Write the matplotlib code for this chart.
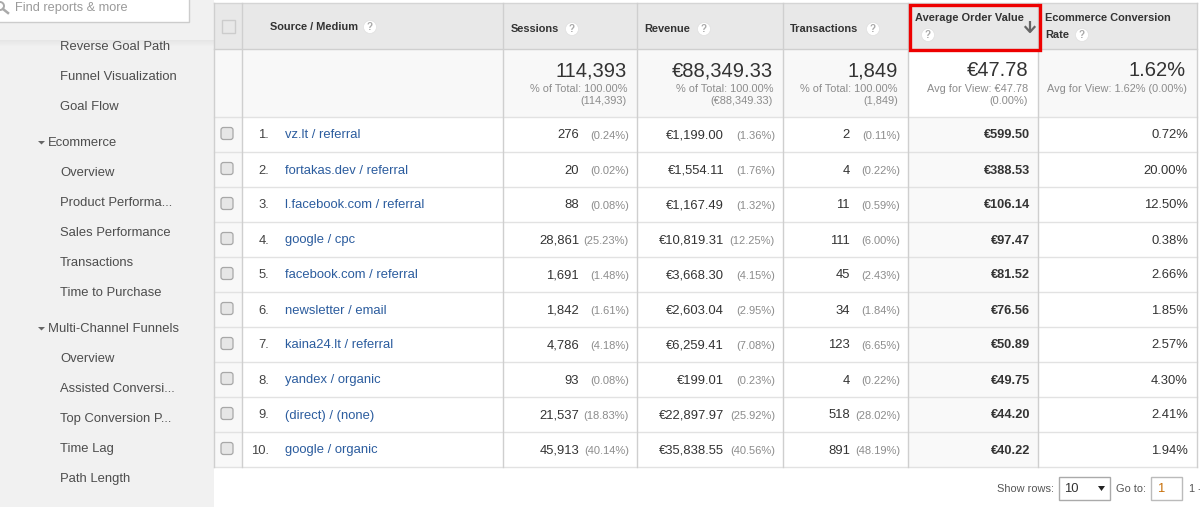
import matplotlib
matplotlib.use("Agg")
import matplotlib.pyplot as plt
from matplotlib.patches import Rectangle, Circle, Polygon, FancyBboxPatch

plt.rcParams['font.family'] = ['Liberation Sans', 'DejaVu Sans']

# data
sources = ["vz.lt / referral", "fortakas.dev / referral", "l.facebook.com / referral",
           "google / cpc", "facebook.com / referral", "newsletter / email",
           "kaina24.lt / referral", "yandex / organic", "(direct) / (none)", "google / organic"]
sessions = ["276", "20", "88", "28,861", "1,691", "1,842", "4,786", "93", "21,537", "45,913"]
sessions_pct = ["(0.24%)", "(0.02%)", "(0.08%)", "(25.23%)", "(1.48%)", "(1.61%)", "(4.18%)", "(0.08%)", "(18.83%)", "(40.14%)"]
revenue = ["€1,199.00", "€1,554.11", "€1,167.49", "€10,819.31", "€3,668.30", "€2,603.04",
           "€6,259.41", "€199.01", "€22,897.97", "€35,838.55"]
revenue_pct = ["(1.36%)", "(1.76%)", "(1.32%)", "(12.25%)", "(4.15%)", "(2.95%)", "(7.08%)", "(0.23%)", "(25.92%)", "(40.56%)"]
transactions = ["2", "4", "11", "111", "45", "34", "123", "4", "518", "891"]
transactions_pct = ["(0.11%)", "(0.22%)", "(0.59%)", "(6.00%)", "(2.43%)", "(1.84%)", "(6.65%)", "(0.22%)", "(28.02%)", "(48.19%)"]
order_value = ["€599.50", "€388.53", "€106.14", "€97.47", "€81.52", "€76.56", "€50.89", "€49.75", "€44.20", "€40.22"]
conversion = ["0.72%", "20.00%", "12.50%", "0.38%", "2.66%", "1.85%", "2.57%", "4.30%", "2.41%", "1.94%"]

sidebar_items = [("Reverse Goal Path", 46, 0), ("Funnel Visualization", 76, 0), ("Goal Flow", 106, 0),
                 ("Ecommerce", 142, 1), ("Overview", 172, 0), ("Product Performa...", 202, 0),
                 ("Sales Performance", 232, 0), ("Transactions", 262, 0), ("Time to Purchase", 292, 0),
                 ("Multi-Channel Funnels", 328, 1), ("Overview", 358, 0), ("Assisted Conversi...", 388, 0),
                 ("Top Conversion P...", 418, 0), ("Time Lag", 448, 0), ("Path Length", 478, 0)]

# layout in pixels
col_edges = [214, 242, 503, 637, 783, 908, 1038, 1197]
row_top = 117
row_h = 35
line_col = "#cfcfcf"
row_line = "#e2e2e2"
dark = "#333333"
grey = "#8c8c8c"
link = "#2b5c9e"

fig = plt.figure(figsize=(12, 5.07), dpi=100, facecolor="white")
ax = fig.add_axes([0, 0, 1, 1])
ax.set_xlim(0, 1200)
ax.set_ylim(507, 0)
ax.axis("off")


def rect(x0, y0, x1, y1, **kw):
    ax.add_patch(Rectangle((x0, y0), x1 - x0, y1 - y0, **kw))


def txt(x, y, s, size=9.4, color=dark, ha="left", **kw):
    # va center sits about a pixel high against the screenshot
    ax.text(x, y + 1, s, fontsize=size, color=color, ha=ha, va="center", **kw)


def help_icon(x, y):
    ax.add_patch(Circle((x, y), 6.5, fc="white", ec="#e0e0e0", lw=0.5, zorder=3))
    ax.text(x, y, "?", fontsize=7, color="#aaaaaa", ha="center", va="center", weight="bold", zorder=4)


# sidebar
rect(0, 0, 214, 507, fc="#f1f1f1", ec="none")
for i in range(6):
    rect(0, 40 + i, 214, 41 + i, fc="#dddddd", ec="none", alpha=0.5 - i * 0.08)
rect(-2, -2, 189, 22, fc="white", ec="#cccccc", lw=1)
txt(15, 7, "Find reports & more", size=9.2, color="#9a9a9a")
ax.add_patch(Circle((0, 6), 4, fc="none", ec="#aaaaaa", lw=1.4))
ax.plot([3, 8], [9, 13], color="#aaaaaa", lw=1.8)
for name, y, is_group in sidebar_items:
    if is_group:
        ax.add_patch(Polygon([(38, y - 1), (45, y - 1), (41.5, y + 2.5)], fc="#666666", ec="none"))
        txt(48, y, name, color="#4d4d4d")
    else:
        txt(60, y, name, color="#4d4d4d")

# header and summary
rect(214, 3, 1197, 49, fc="#e8e8e8", ec="none")
rect(214, 49, 1197, row_top, fc="#f8f8f8", ec="none")
rect(908, 49, 1038, row_top, fc="white", ec="none")
rect(214, row_top, 242, row_top + 10 * row_h, fc="#f8f8f8", ec="none")
rect(908, row_top, 1038, row_top + 10 * row_h, fc="#f9f9f9", ec="none")
ax.plot([214, 1197], [3, 3], color="#d5d5d5", lw=1)
ax.plot([214, 1197], [49, 49], color=line_col, lw=1)

rect(222, 20, 235, 33, fc="#e8e8e8", ec="#cccccc", lw=1)
txt(270, 26, "Source / Medium", size=7.9, weight="bold")
help_icon(370, 27)
txt(511, 28, "Sessions", size=7.9, weight="bold")
help_icon(572, 29)
txt(644, 28, "Revenue", size=7.9, weight="bold")
help_icon(704, 29)
txt(790, 28, "Transactions", size=7.9, weight="bold")
help_icon(873, 29)
txt(915, 17, "Average Order Value", size=7.9, weight="bold")
help_icon(928, 35)
# sort arrow
ax.plot([1030, 1030], [21, 32], color="#666666", lw=1.6, solid_capstyle="butt")
ax.plot([1025.5, 1030, 1034.5], [27, 32, 27], color="#666666", lw=1.6)
txt(1045, 17, "Ecommerce Conversion", size=7.9, weight="bold")
txt(1045, 34, "Rate", size=7.9, weight="bold")
help_icon(1082, 35)
rect(910, 5, 1040, 50, fc="none", ec="#ee0000", lw=2.4, zorder=5)

# totals
txt(627, 70, "114,393", size=14.5, ha="right")
txt(627, 88, "% of Total: 100.00%", size=7.9, color=grey, ha="right")
txt(627, 100, "(114,393)", size=7.9, color=grey, ha="right")
txt(773, 70, "€88,349.33", size=14.5, ha="right")
txt(773, 88, "% of Total: 100.00%", size=7.9, color=grey, ha="right")
txt(773, 100, "(€88,349.33)", size=7.9, color=grey, ha="right")
txt(898, 70, "1,849", size=14.5, ha="right")
txt(898, 88, "% of Total: 100.00%", size=7.9, color=grey, ha="right")
txt(898, 100, "(1,849)", size=7.9, color=grey, ha="right")
txt(1028, 70, "€47.78", size=14.5, ha="right")
txt(1028, 88, "Avg for View: €47.78", size=7.9, color=grey, ha="right")
txt(1028, 100, "(0.00%)", size=7.9, color=grey, ha="right")
txt(1186, 70, "1.62%", size=14.5, ha="right")
txt(1187, 88, "Avg for View: 1.62% (0.00%)", size=7.9, color=grey, ha="right")

# rows
for i in range(11):
    y = row_top + i * row_h
    ax.plot([214, 1197], [y, y], color=row_line, lw=1)
for i, src in enumerate(sources):
    y = row_top + (i + 0.5) * row_h
    ax.add_patch(FancyBboxPatch((222.5, y - 5.5), 9, 9, boxstyle="round,pad=1.5,rounding_size=2.5",
                                fc="#e6e6e6", ec="#a8a8a8", lw=0.9))
    txt(269, y, f"{i + 1}.", ha="right", color="#444444")
    txt(285, y, src, color=link)
    txt(579, y, sessions[i], ha="right")
    txt(629, y + 0.5, sessions_pct[i], size=8, color=grey, ha="right")
    txt(724, y, revenue[i], ha="right")
    txt(775, y + 0.5, revenue_pct[i], size=8, color=grey, ha="right")
    txt(850, y, transactions[i], ha="right")
    txt(900, y + 0.5, transactions_pct[i], size=8, color=grey, ha="right")
    txt(1030, y, order_value[i], size=9.2, ha="right", weight="bold")
    txt(1188, y, conversion[i], ha="right")

# column lines
for x in col_edges:
    ax.plot([x, x], [3, row_top + 10 * row_h], color=line_col, lw=1)

# footer
txt(1054, 487.5, "Show rows:", size=7.9, color="#555555", ha="right")
rect(1059, 477, 1110, 500, fc="white", ec="#aaaaaa", lw=1)
txt(1064, 488, "10", color=dark)
ax.add_patch(Polygon([(1098, 486), (1105, 486), (1101.5, 491)], fc="#222222", ec="none"))
txt(1116, 487.5, "Go to:", size=7.9, color="#555555")
rect(1151, 477, 1182, 500, fc="white", ec="#bbbbbb", lw=1)
txt(1157, 488, "1", color="#c8700a")
txt(1189, 487.5, "1 -", size=7.9, color="#555555")

fig.savefig("out.png", dpi=100, facecolor="white")
